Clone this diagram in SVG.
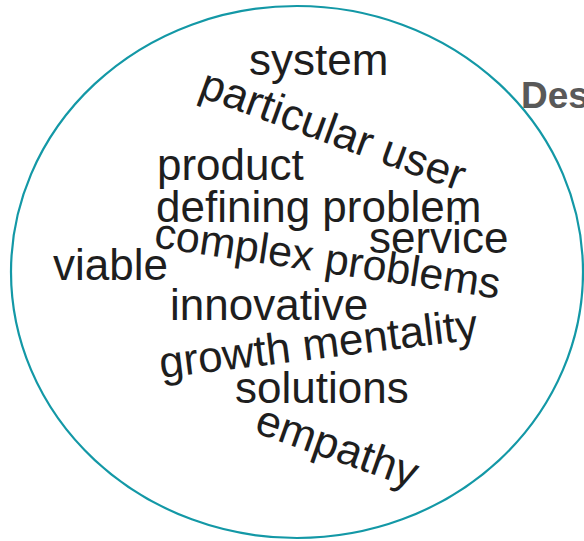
<svg xmlns="http://www.w3.org/2000/svg" width="584" height="541" viewBox="0 0 584 541">
<style>
.w{font-family:"Liberation Sans",Arial,sans-serif;font-size:44px;fill:#1e1e1e}
.t{font-family:"Liberation Sans",Arial,sans-serif;font-size:37px;font-weight:bold;fill:#595959}
</style>
<rect width="584" height="541" fill="#fff"/>
<ellipse id="circle" cx="297" cy="272" rx="286" ry="266" fill="none" stroke="#1398a6" stroke-width="2.2"/>
<text class="t" x="521" y="108">Des</text>
<g id="cloud">
<text class="w" x="249" y="75">system</text>
<text class="w" transform="translate(197,96) rotate(20)">particular user</text>
<text class="w" x="157" y="180">product</text>
<text class="w" x="156" y="222">defining problem</text>
<text class="w" x="369" y="253">service</text>
<text class="w" x="53" y="280">viable</text>
<text class="w" style="font-size:43px" transform="translate(153,247) rotate(8.5)">complex problems</text>
<text class="w" x="170" y="320">innovative</text>
<text class="w" transform="translate(161,378) rotate(-7)">growth mentality</text>
<text class="w" x="235" y="403">solutions</text>
<text class="w" transform="translate(253,432) rotate(19.5)">empathy</text>
</g>
</svg>
